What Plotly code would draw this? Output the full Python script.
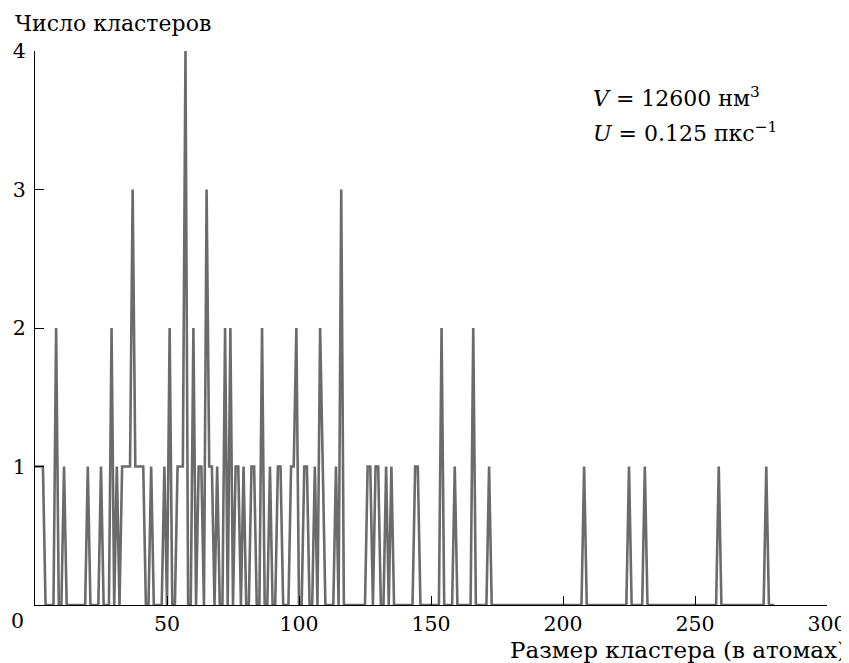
import plotly.graph_objects as go

# Cluster sizes (atoms) with non-zero counts
sizes = [0, 1, 2, 3, 8, 11, 20, 25, 29, 31,
         33, 34, 35, 36, 37, 38, 39, 40, 41,
         44, 49, 51, 54, 55, 56, 57, 60, 62, 63, 65, 66, 67, 69,
         72, 74, 76, 77, 79, 82, 83, 86, 89, 92, 93, 97, 98, 99,
         102, 103, 106, 108, 109, 114, 116, 126, 127, 129, 130,
         133, 135, 144, 145, 154, 159, 166, 172,
         208, 225, 231, 259, 277]
counts = [1, 1, 1, 1, 2, 1, 1, 1, 2, 1,
          1, 1, 1, 1, 3, 1, 1, 1, 1,
          1, 1, 2, 1, 1, 1, 4, 2, 1, 1, 3, 1, 1, 1,
          2, 2, 1, 1, 1, 1, 1, 2, 1, 1, 1, 1, 1, 2,
          1, 1, 1, 2, 1, 1, 3, 1, 1, 1, 1,
          1, 1, 1, 1, 2, 1, 2, 1,
          1, 1, 1, 1, 1]
max_size = 280

x_ticks = [50, 100, 150, 200, 250, 300]
y_ticks = [1, 2, 3, 4]

lookup = dict(zip(sizes, counts))
x_vals = list(range(0, max_size + 1))
y_vals = [lookup.get(s, 0) for s in x_vals]

fig = go.Figure(go.Scatter(x=x_vals, y=y_vals, mode="lines",
                           line=dict(color="#6b6b6b", width=2.6),
                           hoverinfo="skip"))

# The page body adds an 8 px offset; figure coordinates below are page pixels minus 8.
OFF = 8
W, H = 849 - OFF, 663 - OFF
L, R, T, B = 35 - OFF, 22, 51 - OFF, 58
pw, ph = W - L - R, H - T - B

def px(xp):  # page x pixel -> paper x
    return (xp - OFF - L) / pw

def py(yp):  # page y pixel -> paper y
    return (H - B - (yp - OFF)) / ph

font_family = "DejaVu Serif"
tsize = 20.5
fsize = 22
fig.update_layout(
    width=W, height=H,
    margin=dict(l=L, r=R, t=T, b=B, autoexpand=False),
    plot_bgcolor="white", paper_bgcolor="white",
    showlegend=False,
    font=dict(family=font_family, size=fsize, color="black"),
)
fig.update_xaxes(range=[0, 300], tickvals=x_ticks, ticktext=[str(v) for v in x_ticks],
                 ticks="inside", ticklen=9, tickwidth=1.3, tickcolor="black",
                 showline=True, linecolor="black", linewidth=1.3, automargin=False,
                 tickfont=dict(family=font_family, size=tsize, color="black"),
                 showgrid=False, zeroline=False, ticklabelstandoff=0)
fig.update_yaxes(range=[0, 4], tickvals=y_ticks, ticktext=[str(v) for v in y_ticks],
                 ticks="inside", ticklen=9, tickwidth=1.3, tickcolor="black",
                 showline=True, linecolor="black", linewidth=1.3, automargin=False,
                 tickfont=dict(family=font_family, size=tsize, color="black"),
                 showgrid=False, zeroline=False, ticklabelstandoff=4)

ann = [
    dict(text="0", x=px(17), y=py(621), xanchor="center", yanchor="middle", size=tsize),
    dict(text="Число кластеров", x=px(13), y=py(24), xanchor="left", yanchor="middle", size=fsize),
    dict(text="Размер кластера (в атомах)", x=px(848), y=py(650), xanchor="right", yanchor="middle", size=23),
    dict(text="<i>V</i> = 12600 нм<sup>3</sup>", x=px(591), y=py(97), xanchor="left", yanchor="middle", size=fsize),
    dict(text="<i>U</i> = 0.125 пкс<sup>\u22121</sup>", x=px(591), y=py(132), xanchor="left", yanchor="middle", size=fsize),
]
for a in ann:
    s = a.pop("size")
    fig.add_annotation(xref="paper", yref="paper", showarrow=False,
                       font=dict(family=font_family, size=s, color="black"), **a)

fig.write_html("out.html")
